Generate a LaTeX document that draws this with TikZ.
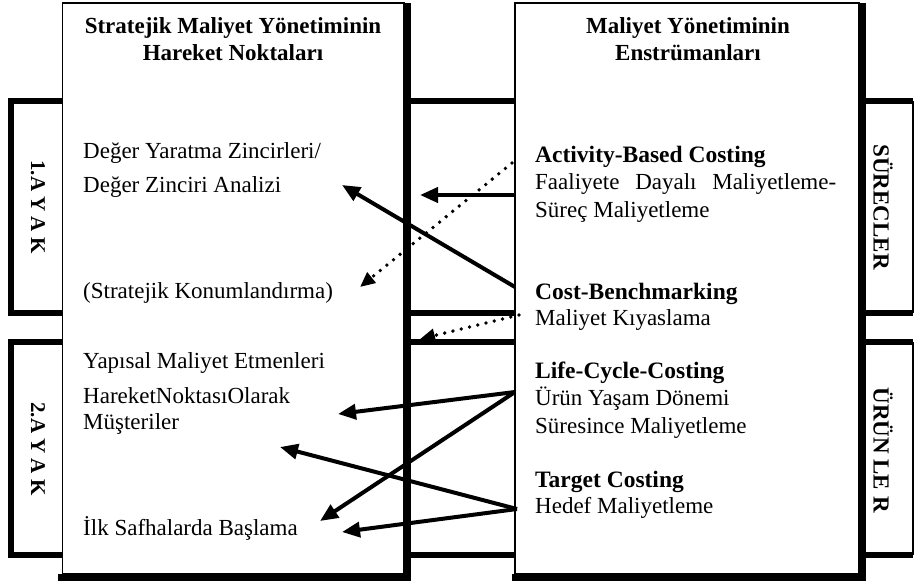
\documentclass[tikz,border=0pt]{standalone}
\usepackage{fontspec}
\setmainfont{Liberation Serif}
\usetikzlibrary{arrows.meta}
\tikzset{
  bandline/.style={line width=6pt, line join=miter},
  boxedge/.style={line width=1.2pt},
  shadowline/.style={line width=7pt, line join=miter},
  txt/.style={anchor=base west, inner sep=0pt, font=\fontsize{23}{27}\selectfont},
  btxt/.style={anchor=base west, inner sep=0pt, font=\bfseries\fontsize{23.5}{27}\selectfont},
  titletxt/.style={anchor=base, inner sep=0pt, font=\bfseries\fontsize{23}{27}\selectfont},
  sidelabel/.style={rotate=-90, inner sep=0pt, font=\bfseries\fontsize{21}{27}\selectfont},
  rsidelabel/.style={rotate=-90, inner sep=0pt, font=\bfseries\fontsize{23}{27}\selectfont},
  arr/.style={line width=4pt, -{Triangle[length=18pt,width=15pt]}},
  darr/.style={line width=3.8pt, line cap=round, dash pattern=on 0pt off 8.5pt, -{Triangle[length=15pt,width=13pt]}}
}
\begin{document}
\begin{tikzpicture}[x=1pt,y=-1pt]
\useasboundingbox (0,0) rectangle (915,582);
% bands
\draw[bandline] (913,101) -- (11,101) -- (11,313) -- (913,313);
\draw[boxedge] (913,101) -- (913,313);
\draw[bandline] (913,342) -- (11,342) -- (11,554.5) -- (913,554.5);
\draw[boxedge] (913,342) -- (913,554.5);
% tall boxes
\fill[white] (62.5,3) rectangle (404,574);
\draw[boxedge] (62.5,3) rectangle (404,574);
\draw[shadowline] (407,3) -- (407,577) -- (58,577);
\fill[white] (515,3) rectangle (859,574);
\draw[boxedge] (515,3) rectangle (859,574);
\draw[shadowline] (862.5,3) -- (862.5,577) -- (512,577);
% side labels
\node[sidelabel] (ayak1) at (38,207) {1.A Y A K};
\node[sidelabel] (ayak2) at (38,449) {2.A Y A K};
\node[rsidelabel] (surecler) at (883,207) {SÜRECLER};
\node[rsidelabel] (urunler) at (883,450) {ÜRÜN LE R};
% titles
\node[titletxt] (lt1) at (233,33) {Stratejik Maliyet Yönetiminin};
\node[titletxt] (lt2) at (233,60) {Hareket Noktaları};
\node[titletxt] (rt1) at (688,33) {Maliyet Yönetiminin};
\node[titletxt] (rt2) at (688,60) {Enstrümanları};
% left texts
\node[txt] (l1) at (83,158) {Değer Yaratma Zincirleri/};
\node[txt] (l2) at (83,192) {Değer Zinciri Analizi};
\node[txt] (l3) at (83,298) {(Stratejik Konumlandırma)};
\node[txt] (l4) at (83,368) {Yapısal Maliyet Etmenleri};
\node[txt] (l5) at (83,403) {HareketNoktasıOlarak};
\node[txt] (l6) at (83,429) {Müşteriler};
\node[txt] (l7) at (83,535) {İlk Safhalarda Başlama};
% right texts
\node[btxt] (r1) at (535,162) {Activity-Based Costing};
\node[txt] (r2) at (535,189) {\makebox[301pt][s]{Faaliyete Dayalı Maliyetleme-}};
\node[txt] (r3) at (535,217) {Süreç Maliyetleme};
\node[btxt] (r4) at (535,299) {Cost-Benchmarking};
\node[txt] (r5) at (535,325) {Maliyet Kıyaslama};
\node[btxt] (r6) at (535,378) {Life-Cycle-Costing};
\node[txt] (r7) at (535,405) {Ürün Yaşam Dönemi};
\node[txt] (r8) at (535,433) {Süresince Maliyetleme};
\node[btxt] (r9) at (535,487) {Target Costing};
\node[txt] (r10) at (535,513) {Hedef Maliyetleme};
% arrow end points
\coordinate (abcS) at (515,195);
\coordinate (abcD) at (512,163);
\coordinate (cbS) at (515,287);
\coordinate (cbD) at (519,315);
\coordinate (lccS) at (515,392);
\coordinate (tcS) at (517,509);
\coordinate (vcA) at (420,195);
\coordinate (vcB) at (342,185);
\coordinate (skT) at (360,287);
\coordinate (bandT) at (420,339);
\coordinate (muT) at (338,414);
\coordinate (muB) at (280,447);
\coordinate (ilkA) at (320,521);
\coordinate (ilkB) at (342,532);
% arrows
\draw[arr] (abcS) -- (vcA);
\draw[arr] (cbS) -- (vcB);
\draw[darr] (abcD) -- (skT);
\draw[darr] (cbD) -- (bandT);
\draw[arr] (lccS) -- (muT);
\draw[arr] (lccS) -- (ilkA);
\draw[arr] (tcS) -- (muB);
\draw[arr] (tcS) -- (ilkB);
\end{tikzpicture}
\end{document}
